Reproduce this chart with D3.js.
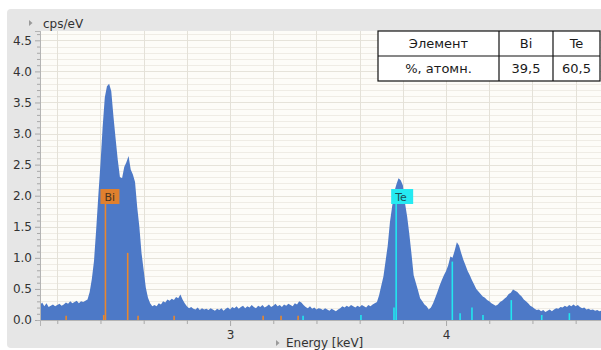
<!DOCTYPE html>
<html>
<head>
<meta charset="utf-8">
<script src="https://cdn.jsdelivr.net/npm/d3@7"></script>
<style>
body { margin: 0; background: #fff; }
text { font-family: "DejaVu Sans", sans-serif; }
</style>
</head>
<body>
<script>
var width = 601, height = 350;

// spectrum channels, 0.01 keV wide, first channel at 2.12 keV
var channelStart = 2.12;
var channelWidth = 0.01;
var counts = [
  // 2.12
  0.24, 0.28, 0.22, 0.27, 0.21, 0.23, 0.25, 0.22,
  // 2.20
  0.24, 0.26, 0.23, 0.25, 0.28, 0.26, 0.30, 0.27, 0.29, 0.31,
  // 2.30
  0.27, 0.30, 0.29, 0.31, 0.33, 0.45, 0.66, 0.95, 1.45, 2.00,
  // 2.40
  2.52, 3.10, 3.58, 3.76, 3.80, 3.68, 3.28, 2.92, 2.58, 2.30,
  // 2.50
  2.28, 2.46, 2.54, 2.64, 2.42, 2.34, 2.22, 1.82, 1.50, 1.08,
  // 2.60
  0.80, 0.52, 0.36, 0.27, 0.22, 0.24, 0.22, 0.27, 0.25, 0.30,
  // 2.70
  0.28, 0.33, 0.31, 0.34, 0.32, 0.37, 0.35, 0.41, 0.33, 0.27,
  // 2.80
  0.22, 0.19, 0.21, 0.18, 0.17, 0.20, 0.16, 0.19, 0.17, 0.18,
  // 2.90
  0.16, 0.19, 0.17, 0.15, 0.18, 0.16, 0.19, 0.15, 0.18, 0.20,
  // 3.00
  0.17, 0.21, 0.19, 0.22, 0.18, 0.21, 0.23, 0.19, 0.22, 0.20,
  // 3.10
  0.24, 0.21, 0.19, 0.23, 0.21, 0.24, 0.20, 0.22, 0.25, 0.21,
  // 3.20
  0.23, 0.26, 0.22, 0.24, 0.21, 0.25, 0.23, 0.26, 0.24, 0.22,
  // 3.30
  0.27, 0.25, 0.30, 0.28, 0.24, 0.21, 0.19, 0.22, 0.18, 0.20,
  // 3.40
  0.17, 0.19, 0.18, 0.16, 0.19, 0.17, 0.15, 0.18, 0.16, 0.14,
  // 3.50
  0.17, 0.19, 0.22, 0.20, 0.23, 0.21, 0.24, 0.22, 0.20, 0.23,
  // 3.60
  0.21, 0.24, 0.22, 0.20, 0.24, 0.22, 0.25, 0.27, 0.29, 0.40,
  // 3.70
  0.55, 0.70, 0.95, 1.20, 1.57, 1.82, 2.06, 2.18, 2.28, 2.25,
  // 3.80
  2.17, 1.88, 1.66, 1.38, 1.06, 0.72, 0.60, 0.48, 0.35, 0.30,
  // 3.90
  0.25, 0.22, 0.17, 0.20, 0.27, 0.36, 0.45, 0.55, 0.64, 0.72,
  // 4.00
  0.79, 0.88, 1.02, 1.00, 1.12, 1.25, 1.20, 1.08, 0.97, 0.88,
  // 4.10
  0.79, 0.72, 0.64, 0.57, 0.50, 0.46, 0.42, 0.38, 0.36, 0.32,
  // 4.20
  0.30, 0.27, 0.25, 0.23, 0.25, 0.29, 0.31, 0.34, 0.37, 0.42,
  // 4.30
  0.44, 0.49, 0.47, 0.45, 0.41, 0.38, 0.33, 0.30, 0.27, 0.23,
  // 4.40
  0.21, 0.18, 0.16, 0.17, 0.14, 0.16, 0.13, 0.15, 0.17, 0.14,
  // 4.50
  0.17, 0.19, 0.18, 0.21, 0.20, 0.23, 0.21, 0.24, 0.22, 0.25,
  // 4.60
  0.22, 0.24, 0.21, 0.19, 0.20, 0.17, 0.18, 0.16, 0.17, 0.15,
  // 4.70
  0.16, 0.14, 0.15, 0.16
];

// element line markers (keV, cps/eV)
var biLines   = [2.241, 2.415, 2.423, 2.526, 2.574, 2.741, 3.153, 3.236, 3.315];
var biHeights = [0.07, 0.08, 1.87, 1.08, 0.07, 0.07, 0.07, 0.07, 0.07];
var teLines   = [3.338, 3.606, 3.759, 3.769, 4.029, 4.065, 4.120, 4.171, 4.302, 4.443, 4.571];
var teHeights = [0.07, 0.08, 0.20, 1.87, 0.94, 0.11, 0.20, 0.08, 0.32, 0.08, 0.11];
var markerNames    = ["Bi", "Te"];
var markerEnergies = [2.423, 3.769];

// y ticks and x ticks
var yMajorTicks = [0, 0.5, 1, 1.5, 2, 2.5, 3, 3.5, 4, 4.5];
var yMinorTicks = [0.1,0.2,0.3,0.4,0.6,0.7,0.8,0.9,1.1,1.2,1.3,1.4,1.6,1.7,1.8,1.9,2.1,2.2,2.3,2.4,
                   2.6,2.7,2.8,2.9,3.1,3.2,3.3,3.4,3.6,3.7,3.8,3.9,4.1,4.2,4.3,4.4,4.6];
var xMinorTicks = [2.2, 2.4, 2.6, 2.8, 3.2, 3.4, 3.6, 3.8, 4.2, 4.4, 4.6];
var xMajorTicks = [3, 4];

// composition table
var tableHeader = ["Элемент", "Bi", "Te"];
var tableRow    = ["%, атомн.", "39,5", "60,5"];

var plotLeft = 40, plotTop = 31, plotBottom = 320, plotRight = 602;

var svg = d3.select("body")
.append("svg")
.attr("width", width)
.attr("height", height)
.attr("id","svg");

var x = d3.scaleLinear().domain([2.12, 4.722]).range([plotLeft, plotRight]);
var y = d3.scaleLinear().domain([0, 4.65]).range([plotBottom, plotTop]);

// grey panel
svg.append("rect")
.attr("x", 7).attr("y", 9)
.attr("width", 620).attr("height", 339)
.attr("rx", 4)
.attr("fill", "#e6e6e6");

svg.append("rect")
.attr("x", plotLeft).attr("y", plotTop)
.attr("width", plotRight - plotLeft).attr("height", plotBottom - plotTop)
.attr("fill", "#fdfcf8");

var grid = svg.append("g").attr("id","grid");

grid.selectAll(".hgrid")
.data(yMinorTicks.concat(yMajorTicks.slice(1)))
.enter().append("line")
.attr("class","hgrid")
.attr("x1", plotLeft).attr("x2", plotRight)
.attr("y1", function(d){ return Math.round(y(d)) + 0.5; })
.attr("y2", function(d){ return Math.round(y(d)) + 0.5; })
.attr("stroke", function(d){ return yMajorTicks.indexOf(d) >= 0 ? "#e6e3da" : "#efece5"; })
.attr("stroke-width", 1);

grid.selectAll(".vgrid")
.data(xMinorTicks.concat(xMajorTicks))
.enter().append("line")
.attr("class","vgrid")
.attr("x1", function(d){ return Math.round(x(d)) + 0.5; })
.attr("x2", function(d){ return Math.round(x(d)) + 0.5; })
.attr("y1", plotTop).attr("y2", plotBottom)
.attr("stroke", "#e4e1d8")
.attr("stroke-width", 1);

// spectrum
var area = d3.area()
.x(function(d, i){ return x(channelStart + i * channelWidth); })
.y0(plotBottom)
.y1(function(d){ return y(d); });

svg.append("path")
.datum(counts)
.attr("d", area)
.attr("fill", "#4d79c7");

// element lines
function drawLines(energies, heights, colour){
    svg.append("g").selectAll("line")
    .data(energies)
    .enter().append("line")
    .attr("x1", function(d){ return x(d); })
    .attr("x2", function(d){ return x(d); })
    .attr("y1", plotBottom)
    .attr("y2", function(d, i){ return y(heights[i]); })
    .attr("stroke", colour)
    .attr("stroke-width", 1.6);
}
drawLines(biLines, biHeights, "#e8872e");
drawLines(teLines, teHeights, "#22e6ef");

var markerColours = ["#e0802e", "#25eaf2"];
var markerText = ["#4a3320", "#1d4f57"];
var labels = svg.selectAll(".marker")
.data(markerNames)
.enter().append("g")
.attr("class","marker")
.attr("transform", function(d, i){ return "translate(" + x(markerEnergies[i]) + ",189)"; });

labels.append("rect")
.attr("x", -5).attr("y", 0)
.attr("width", function(d){ return d == "Bi" ? 19 : 22; })
.attr("height", 15)
.attr("fill", function(d, i){ return markerColours[i]; });

labels.append("text")
.attr("x", -1).attr("y", 12)
.attr("font-size", 11)
.attr("fill", function(d, i){ return markerText[i]; })
.text(function(d){ return d; });

// axes
var yAxis = svg.append("g")
.attr("transform", "translate(" + plotLeft + ",0)")
.call(d3.axisLeft(y).tickValues(yMajorTicks).tickSize(5).tickPadding(3).tickFormat(d3.format(".1f")));
svg.append("g")
.attr("transform", "translate(" + plotLeft + ",0)")
.call(d3.axisLeft(y).tickValues(yMinorTicks).tickSize(3).tickFormat(""));

var xAxis = svg.append("g")
.attr("transform", "translate(0," + plotBottom + ")")
.call(d3.axisBottom(x).tickValues(xMajorTicks).tickSize(6).tickPadding(4).tickFormat(d3.format("d")));
svg.append("g")
.attr("transform", "translate(0," + plotBottom + ")")
.call(d3.axisBottom(x).tickValues(xMinorTicks).tickSize(4).tickFormat(""));

svg.selectAll(".domain").attr("stroke", "#b4b4b4");
svg.selectAll(".tick line").attr("stroke", "#a8a8a8");
svg.selectAll(".tick text")
.attr("font-family", "DejaVu Sans")
.attr("font-size", 12)
.attr("fill", "#333");

// axis titles with small arrows
svg.append("path").attr("d", "M29,20 L32.5,23 L29,26 Z").attr("fill", "#9a9a9a");
svg.append("text")
.attr("x", 43).attr("y", 28)
.attr("font-size", 12)
.attr("fill", "#333")
.text("cps/eV");

svg.append("path").attr("d", "M276,340 L279.5,343 L276,346 Z").attr("fill", "#9a9a9a");
svg.append("text")
.attr("x", 286).attr("y", 347)
.attr("font-size", 12)
.attr("fill", "#333")
.text("Energy [keV]");

// table
var colEdges = [378, 499, 553, 600];
var rowEdges = [31, 56, 81];
var table = svg.append("g").attr("id","table");

table.append("rect")
.attr("x", colEdges[0]).attr("y", rowEdges[0])
.attr("width", colEdges[3] - colEdges[0]).attr("height", rowEdges[2] - rowEdges[0])
.attr("fill", "#fff")
.attr("stroke", "#111")
.attr("stroke-width", 1.2);

table.append("line")
.attr("x1", colEdges[0]).attr("x2", colEdges[3])
.attr("y1", rowEdges[1]).attr("y2", rowEdges[1])
.attr("stroke", "#111").attr("stroke-width", 1.2);

table.selectAll(".col")
.data([colEdges[1], colEdges[2]])
.enter().append("line")
.attr("class","col")
.attr("x1", function(d){ return d; }).attr("x2", function(d){ return d; })
.attr("y1", rowEdges[0]).attr("y2", rowEdges[2])
.attr("stroke", "#111").attr("stroke-width", 1.2);

[tableHeader, tableRow].forEach(function(row, r){
    table.selectAll(".cell" + r)
    .data(row)
    .enter().append("text")
    .attr("class","cell" + r)
    .attr("x", function(d, i){ return (colEdges[i] + colEdges[i + 1]) / 2; })
    .attr("y", rowEdges[r] + 17)
    .attr("text-anchor", "middle")
    .attr("font-family", "Open Sans")
    .attr("font-size", 13)
    .attr("fill", "#1a1a1a")
    .text(function(d){ return d; });
});
</script>
</body>
</html>
